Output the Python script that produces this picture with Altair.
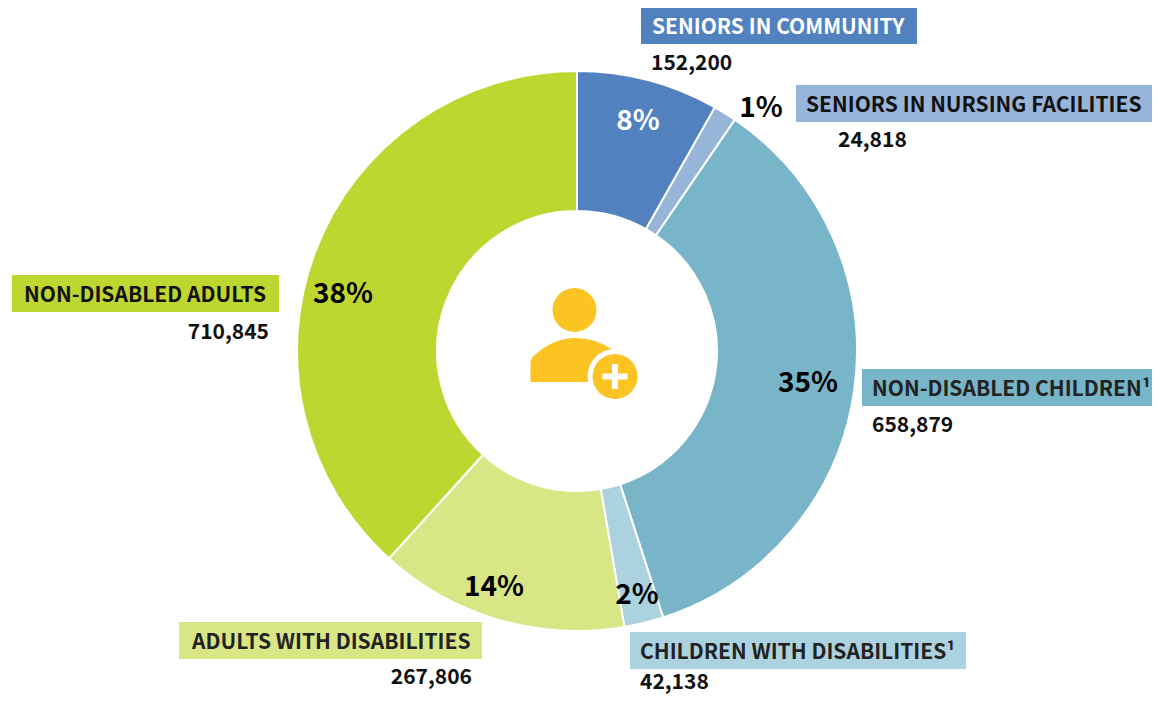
import altair as alt
import pandas as pd

categories = ["SENIORS IN COMMUNITY", "SENIORS IN NURSING FACILITIES", "NON-DISABLED CHILDREN¹",
              "CHILDREN WITH DISABILITIES¹", "ADULTS WITH DISABILITIES", "NON-DISABLED ADULTS"]
values = [152200, 24818, 658879, 42138, 267806, 710845]
value_labels = ["152,200", "24,818", "658,879", "42,138", "267,806", "710,845"]
pct_labels = ["8%", "1%", "35%", "2%", "14%", "38%"]
colors = ["#5182BF", "#97B4D9", "#78B5C9", "#ACD2DF", "#D9E685", "#BED630"]
label_colors = ["#FFFFFF", "#111111", "#222222", "#222222", "#222222", "#111111"]
pct_colors = ["#FFFFFF", "#000000", "#000000", "#000000", "#000000", "#000000"]

FONT = "Noto Sans CJK JP"
YELLOW = "#FBC422"
OFF = 8  # page margin

# layout in page pixels
cx, cy, R_OUT, R_IN = 577, 351, 280, 140
box_x = [641, 796, 862, 630, 179, 12]
box_x2 = [917, 1152, 1152, 966, 482, 279]
box_y = [7, 85, 369, 632, 622, 275]
BOX_H = 37
text_x = [652, 806, 872, 640, 192, 24]
val_x = [651, 838, 872, 640, 472, 269]
val_y = [70, 147, 432, 689, 684, 339]
val_align = ["left", "left", "left", "left", "right", "right"]
pct_x = [638, 761, 808, 637, 494, 343]
pct_y = [130, 117, 392, 604, 596, 303]

df = pd.DataFrame({"cat": categories, "v": values, "i": range(6), "color": colors})

arc = alt.Chart(df).mark_arc(
    radius=R_OUT, radius2=R_IN, stroke="white", strokeWidth=2
).encode(
    theta=alt.Theta("v:Q", stack=True),
    order=alt.Order("i:Q"),
    color=alt.Color("color:N", scale=None),
    x=alt.value(cx - OFF), y=alt.value(cy - OFF),
)

layers = [arc]
one = pd.DataFrame({"a": [0]})
for i in range(6):
    layers.append(alt.Chart(one).mark_rect(color=colors[i]).encode(
        x=alt.value(box_x[i] - OFF), x2=alt.value(box_x2[i] - OFF),
        y=alt.value(box_y[i] - OFF), y2=alt.value(box_y[i] + BOX_H - OFF)))
    layers.append(alt.Chart(pd.DataFrame({"t": [categories[i]]})).mark_text(
        font=FONT, fontSize=21, fontWeight=700, align="left", baseline="alphabetic",
        color=label_colors[i]).encode(
        text="t:N", x=alt.value(text_x[i] - OFF), y=alt.value(box_y[i] + 27 - OFF)))
    layers.append(alt.Chart(pd.DataFrame({"t": [value_labels[i]]})).mark_text(
        font=FONT, fontSize=21, fontWeight=700, align=val_align[i], baseline="alphabetic",
        color="#111111").encode(
        text="t:N", x=alt.value(val_x[i] - OFF), y=alt.value(val_y[i] - OFF)))
    layers.append(alt.Chart(pd.DataFrame({"t": [pct_labels[i]]})).mark_text(
        font=FONT, fontSize=28, fontWeight=700, align="center", baseline="alphabetic",
        color=pct_colors[i]).encode(
        text="t:N", x=alt.value(pct_x[i] - OFF), y=alt.value(pct_y[i] - OFF)))


def sym(shape, x, y, size, color):
    return alt.Chart(one).mark_point(
        filled=True, shape=shape, size=size, color=color, opacity=1, strokeWidth=0
    ).encode(x=alt.value(x - OFF), y=alt.value(y - OFF))


BODY = "M-43.5 22L-43.5 4Q-43.5 -3 -38 -6Q-20 -22 1 -22Q22 -22 39 -10L39 22Z"
PLUS = "M-3 -12.5L3 -12.5L3 -3L12.5 -3L12.5 3L3 3L3 12.5L-3 12.5L-3 3L-12.5 3L-12.5 -3L-3 -3Z"
layers += [
    sym("circle", 574.5, 310, 4 * 22 ** 2, YELLOW),
    sym(BODY, 574, 360, 4, YELLOW),
    sym("circle", 615, 376.5, 4 * 27.5 ** 2, "white"),
    sym("circle", 615, 376.5, 4 * 22.5 ** 2, YELLOW),
    sym(PLUS, 615, 376.5, 4, "white"),
]

chart = alt.layer(*layers).properties(
    width=1144, height=687, padding=0, autosize=alt.AutoSizeParams(type="none")
).configure_view(stroke=None)
chart.save("out.html", embed_options={"renderer": "svg", "actions": False})
